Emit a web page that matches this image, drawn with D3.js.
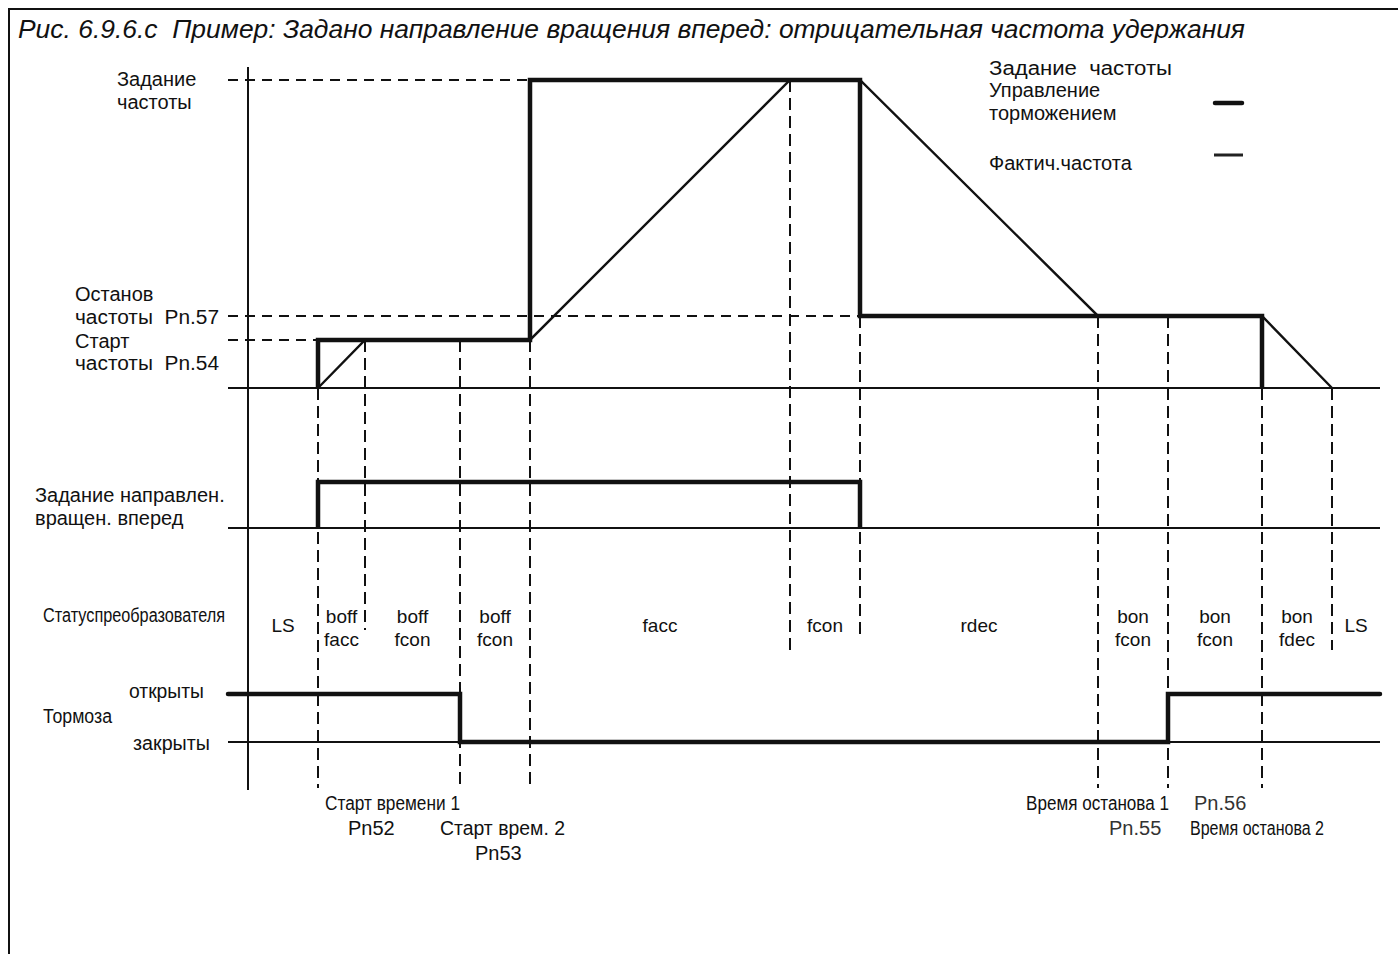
<!DOCTYPE html>
<html lang="ru">
    <head>
        <meta charset="utf-8">
        <script type="text/javascript" src="https://cdn.jsdelivr.net/npm/d3@7/dist/d3.min.js"></script>
        <style type="text/css">
        body{
          margin: 0;
          background: #fff;
        }
        text{
          font-family: "Liberation Sans", Arial, sans-serif;
          fill: #111;
          white-space: pre;
        }
        </style>
    </head>
    <body>

        <script type="text/javascript">
        // Event times on the time axis (arbitrary units)
        var eventTimes = [7.0, 11.7, 21.2, 28.2, 54.2, 61.2, 85.0, 92.0, 101.4, 108.4];
        var timeStart = -2.0;
        var timeEnd = 113.2;

        // Frequency levels
        var setFreq = 50;
        var stopFreq = 11.7;   // Pn.57
        var startFreq = 7.8;   // Pn.54

        // Frequency reference (thick line)
        var refTimes = [7.0, 7.0, 28.2, 28.2, 61.2, 61.2, 101.4, 101.4];
        var refFreq = [0, 7.8, 7.8, 50, 50, 11.7, 11.7, 0];

        // Actual frequency (thin line)
        var actTimes = [7.0, 11.7, 28.2, 54.2, 61.2, 85.0, 101.4, 108.4];
        var actFreq = [0, 7.8, 7.8, 50, 50, 11.7, 11.7, 0];

        // Forward direction command
        var dirTimes = [7.0, 7.0, 61.2, 61.2];
        var dirState = [0, 1, 1, 0];

        // Brakes: 1 = open, 0 = closed
        var brakeTimes = [-2.0, 21.2, 21.2, 92.0, 92.0, 113.2];
        var brakeState = [1, 1, 0, 0, 1, 1];

        // Converter status between events
        var statusStart = [0, 7.0, 11.7, 21.2, 28.2, 54.2, 61.2, 85.0, 92.0, 101.4, 108.4];
        var statusEnd = [7.0, 11.7, 21.2, 28.2, 54.2, 61.2, 85.0, 92.0, 101.4, 108.4, 113.2];
        var statusLabels = [["LS"], ["boff", "facc"], ["boff", "fcon"], ["boff", "fcon"], ["facc"],
                            ["fcon"], ["rdec"], ["bon", "fcon"], ["bon", "fcon"], ["bon", "fdec"], ["LS"]];

        // Vertical guides: time and frequency where the dashes begin
        var guideTimes = [7.0, 11.7, 21.2, 28.2, 54.2, 61.2, 85.0, 92.0, 101.4, 108.4];
        var guideFrom = [0, 7.8, 7.8, 7.8, 50, 11.7, 11.7, 11.7, 0, 0];

        // Horizontal guides: level and time where they stop
        var levelValues = [50, 11.7, 7.8];
        var levelUntil = [28.2, 61.2, 7.0];

        var w = 1398;
        var h = 954;

        var svg = d3.select("body")
          .append("svg")
          .attr("width", w)
          .attr("height", h);

        // Scales
        var xScale = d3.scaleLinear()
                     .domain([0, timeEnd])
                     .range([248, 1380]);

        var fScale = d3.scaleLinear()
                     .domain([0, setFreq])
                     .range([388, 80]);

        var dScale = d3.scaleLinear()
                     .domain([0, 1])
                     .range([528, 482]);

        var bScale = d3.scaleLinear()
                     .domain([0, 1])
                     .range([742, 694]);

        var leftX = 228;
        var dash = "10,7";

        // Frame
        svg.append("path")
          .attr("d", "M9,954V9H1398")
          .attr("fill", "none")
          .attr("stroke", "#111")
          .attr("stroke-width", 2);

        // Title
        svg.append("text")
          .attr("x", 18)
          .attr("y", 38)
          .attr("textLength", 1227)
          .attr("lengthAdjust", "spacingAndGlyphs")
          .style("font-size", "25px")
          .style("font-style", "italic")
          .text("Рис. 6.9.6.с  Пример: Задано направление вращения вперед: отрицательная частота удержания");

        // Time axis (vertical line)
        svg.append("line")
          .attr("x1", xScale(0)).attr("x2", xScale(0))
          .attr("y1", 67).attr("y2", 790)
          .attr("stroke", "#111")
          .attr("stroke-width", 2);

        // Baselines
        var baselines = [fScale(0), dScale(0), bScale(0)];
        svg.selectAll(".base")
          .data(baselines)
          .enter()
          .append("line")
          .attr("class", "base")
          .attr("x1", leftX)
          .attr("x2", xScale(timeEnd))
          .attr("y1", function(d) { return d; })
          .attr("y2", function(d) { return d; })
          .attr("stroke", "#111")
          .attr("stroke-width", 2);

        // Horizontal dashed guides
        svg.selectAll(".hguide")
          .data(levelValues)
          .enter()
          .append("line")
          .attr("class", "hguide")
          .attr("x1", leftX)
          .attr("x2", function(d, i) { return xScale(levelUntil[i]); })
          .attr("y1", function(d) { return fScale(d); })
          .attr("y2", function(d) { return fScale(d); })
          .attr("stroke", "#111")
          .attr("stroke-width", 2)
          .attr("stroke-dasharray", dash);

        // Vertical dashed guides, some stop in the status row
        var guideEnd = {1: 630, 4: 652, 5: 640, 9: 650};
        svg.selectAll(".vguide")
          .data(guideTimes)
          .enter()
          .append("line")
          .attr("class", "vguide")
          .attr("x1", function(d) { return xScale(d); })
          .attr("x2", function(d) { return xScale(d); })
          .attr("y1", function(d, i) { return fScale(guideFrom[i]); })
          .attr("y2", function(d, i) { return guideEnd[i] || 788; })
          .attr("stroke", "#111")
          .attr("stroke-width", 2)
          .attr("stroke-dasharray", "12,6");

        // Actual frequency
        var actLine = d3.line()
          .x(function(d) { return xScale(d[0]); })
          .y(function(d) { return fScale(d[1]); });

        svg.append("path")
          .attr("d", actLine(d3.zip(actTimes, actFreq)))
          .attr("fill", "none")
          .attr("stroke", "#111")
          .attr("stroke-width", 2.4);

        // Frequency reference
        svg.append("path")
          .attr("d", actLine(d3.zip(refTimes, refFreq)))
          .attr("fill", "none")
          .attr("stroke", "#111")
          .attr("stroke-width", 4.5);

        // Direction command
        var dirLine = d3.line()
          .x(function(d) { return xScale(d[0]); })
          .y(function(d) { return dScale(d[1]); });

        svg.append("path")
          .attr("d", dirLine(d3.zip(dirTimes, dirState)))
          .attr("fill", "none")
          .attr("stroke", "#111")
          .attr("stroke-width", 4.5);

        // Brakes
        var brakeLine = d3.line()
          .x(function(d) { return xScale(d[0]); })
          .y(function(d) { return bScale(d[1]); });

        svg.append("path")
          .attr("d", brakeLine(d3.zip(brakeTimes, brakeState)))
          .attr("fill", "none")
          .attr("stroke", "#111")
          .attr("stroke-width", 4.5)
          .attr("stroke-linecap", "round");

        // Status labels
        var statusText = svg.selectAll(".status")
          .data(statusLabels)
          .enter()
          .append("text")
          .attr("class", "status")
          .attr("text-anchor", "middle")
          .style("font-size", "19px")
          .attr("x", function(d, i) { return xScale((statusStart[i] + statusEnd[i]) / 2); })
          .attr("y", function(d) { return d.length > 1 ? 623 : 632; });

        statusText.selectAll("tspan")
          .data(function(d) { return d; })
          .enter()
          .append("tspan")
          .attr("x", function() { return d3.select(this.parentNode).attr("x"); })
          .attr("dy", function(d, i) { return i == 0 ? 0 : 23; })
          .text(function(d) { return d; });

        // Left labels
        var labels = [
          {t: "Задание", x: 117, y: 86},
          {t: "частоты", x: 117, y: 109},
          {t: "Останов", x: 75, y: 301},
          {t: "частоты  Pn.57", x: 75, y: 324, len: 144},
          {t: "Старт", x: 75, y: 348},
          {t: "частоты  Pn.54", x: 75, y: 370, len: 144},
          {t: "Задание направлен.", x: 35, y: 502},
          {t: "вращен. вперед", x: 35, y: 525},
          {t: "Статуспреобразователя", x: 43, y: 622, len: 182},
          {t: "открыты", x: 129, y: 698, len: 75},
          {t: "Тормоза", x: 43, y: 723, len: 69},
          {t: "закрыты", x: 133, y: 750, len: 77},
          {t: "Старт времени 1", x: 325, y: 810, len: 135},
          {t: "Pn52", x: 348, y: 835},
          {t: "Старт врем. 2", x: 440, y: 835, len: 125},
          {t: "Pn53", x: 475, y: 860},
          {t: "Время останова 1", x: 1026, y: 810, len: 143},
          {t: "Pn.55", x: 1109, y: 835, fill: "#333"},
          {t: "Pn.56", x: 1194, y: 810, fill: "#333"},
          {t: "Время останова 2", x: 1190, y: 835, len: 134},
          {t: "Задание  частоты", x: 989, y: 75, len: 183},
          {t: "Управление", x: 989, y: 97},
          {t: "торможением", x: 989, y: 120},
          {t: "Фактич.частота", x: 989, y: 170}
        ];

        svg.selectAll(".label")
          .data(labels)
          .enter()
          .append("text")
          .attr("class", "label")
          .attr("x", function(d) { return d.x; })
          .attr("y", function(d) { return d.y; })
          .attr("textLength", function(d) { return d.len || null; })
          .attr("lengthAdjust", "spacingAndGlyphs")
          .style("font-size", "20px")
          .style("fill", function(d) { return d.fill || "#111"; })
          .text(function(d) { return d.t; });

        // Legend lines
        svg.append("line")
          .attr("x1", 1215).attr("x2", 1242)
          .attr("y1", 103).attr("y2", 103)
          .attr("stroke", "#111")
          .attr("stroke-width", 4.5)
          .attr("stroke-linecap", "round");

        svg.append("line")
          .attr("x1", 1214).attr("x2", 1243)
          .attr("y1", 155).attr("y2", 155)
          .attr("stroke", "#222")
          .attr("stroke-width", 3);
        </script>
    </body>
</html>
